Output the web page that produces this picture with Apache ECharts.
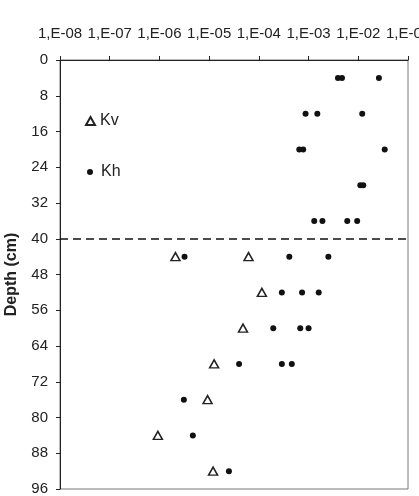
<!DOCTYPE html>
<html>
<head>
<meta charset="UTF-8"/>
<title>Kv Kh depth</title>
<script src="https://cdn.jsdelivr.net/npm/echarts@6/dist/echarts.min.js"></script>
<style>
  html, body { margin: 0; padding: 0; background: #fff; }
  #placeholder { width: 419px; height: 496px; }
</style>
</head>
<body>
<div id="placeholder"></div>
<script type="text/javascript">
// depth (cm) and hydraulic conductivity
var khDepth = [4, 4, 4, 12, 12, 12, 20, 20, 20, 28, 28, 36, 36, 36, 36,
               44, 44, 44, 52, 52, 52, 60, 60, 60, 68, 68, 68, 76, 84, 92];
var khK = [3.9e-3, 4.7e-3, 2.6e-2, 8.7e-4, 1.5e-3, 1.2e-2, 6.5e-4, 7.8e-4, 3.4e-2,
           1.1e-2, 1.26e-2, 1.3e-3, 1.9e-3, 6.0e-3, 9.5e-3,
           3.2e-6, 4.1e-4, 2.5e-3, 2.9e-4, 7.4e-4, 1.6e-3, 1.95e-4, 6.8e-4, 1.0e-3,
           4.0e-5, 2.9e-4, 4.6e-4, 3.1e-6, 4.7e-6, 2.5e-5];
var kvDepth = [44, 44, 52, 60, 68, 76, 84, 92];
var kvK = [2.1e-6, 6.2e-5, 1.15e-4, 4.8e-5, 1.26e-5, 9.3e-6, 9.3e-7, 1.2e-5];
var dashDepth = 40;

var font = 'Liberation Sans, Arial, sans-serif';

function pairs(xs, ys) {
    var res = [];
    for (var i = 0; i < xs.length; i++) {
        res.push([xs[i], ys[i]]);
    }
    return res;
}

var myChart = echarts.init(document.getElementById('placeholder'));

var option = {
    animation: false,
    textStyle: { fontFamily: font },
    grid: {
        left: 60, right: 11, top: 60, bottom: 7,
        outerBoundsMode: 'none',
        containLabel: false,
        show: true,
        borderColor: '#777',
        borderWidth: 1
    },
    legend: [
        {
            data: ['Kv'],
            orient: 'vertical',
            left: 80, top: 108,
            itemWidth: 9, itemHeight: 8,
            selectedMode: false,
            textStyle: { fontSize: 16, color: '#222', fontFamily: font }
        },
        {
            data: ['Kh'],
            orient: 'vertical',
            left: 82, top: 159,
            itemWidth: 12, itemHeight: 6,
            selectedMode: false,
            textStyle: { fontSize: 16, color: '#222', fontFamily: font }
        }
    ],
    xAxis: {
        type: 'log',
        logBase: 10,
        position: 'top',
        min: 1e-8,
        max: 1e-1,
        interval: 1,
        axisLine: { lineStyle: { color: '#222', width: 1 } },
        axisTick: { inside: false, length: 4, lineStyle: { color: '#222' } },
        splitLine: { show: false },
        axisLabel: {
            margin: 19,
            fontSize: 15,
            color: '#222',
            fontFamily: font,
            showMinLabel: true,
            showMaxLabel: true,
            formatter: function (v) {
                var e = Math.round(Math.log(v) / Math.LN10);
                var s = String(Math.abs(e));
                if (s.length < 2) s = '0' + s;
                return '1,E' + (e < 0 ? '-' : '+') + s;
            }
        }
    },
    yAxis: {
        type: 'value',
        inverse: true,
        min: 0,
        max: 96,
        interval: 8,
        name: 'Depth (cm)',
        nameLocation: 'middle',
        nameGap: 40,
        nameTextStyle: { fontSize: 16, fontWeight: 'bold', color: '#222', fontFamily: font },
        axisLine: { lineStyle: { color: '#222', width: 1 } },
        axisTick: { inside: false, length: 4, lineStyle: { color: '#222' } },
        splitLine: { show: false },
        axisLabel: { margin: 12, fontSize: 15, color: '#222', fontFamily: font }
    },
    series: [
        {
            name: 'Kv',
            type: 'scatter',
            symbol: 'triangle',
            symbolSize: [9, 8],
            data: pairs(kvK, kvDepth),
            itemStyle: { color: '#fff', borderColor: '#222', borderWidth: 1.5, opacity: 1 },
            z: 3
        },
        {
            name: 'Kh',
            type: 'scatter',
            symbol: 'circle',
            symbolSize: 6,
            data: pairs(khK, khDepth),
            itemStyle: { color: '#111', opacity: 1 },
            z: 4,
            markLine: {
                silent: true,
                symbol: 'none',
                label: { show: false },
                lineStyle: { type: [8, 5], color: '#111', width: 1.5 },
                data: [{ yAxis: dashDepth }]
            }
        }
    ]
};

if (option && typeof option === 'object') {
    myChart.setOption(option, true);
}
</script>
</body>
</html>
